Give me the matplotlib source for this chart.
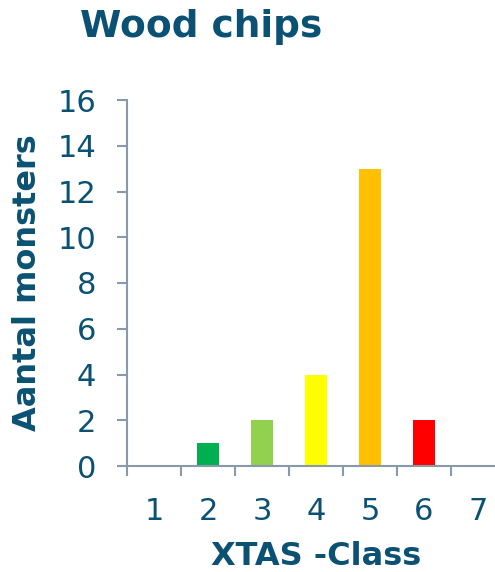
import matplotlib
matplotlib.use("Agg")
from matplotlib import pyplot as plt
from matplotlib import transforms

classes = [1, 2, 3, 4, 5, 6, 7]
counts = [0, 1, 2, 4, 13, 2, 0]
bar_colors = ['#00B050', '#00B050', '#92D050', '#FFFF00', '#FFC000', '#FF0000', '#FF0000']
y_ticks = [0, 2, 4, 6, 8, 10, 12, 14, 16]

text_color = '#0B5173'
axis_color = '#8A99A9'

plt.rcParams['font.family'] = ['DejaVu Sans']

fig = plt.figure(figsize=(4.95, 5.72), dpi=100)
ax = fig.add_axes([127 / 495, 106 / 572, 1 - 127 / 495, 366 / 572])

ax.bar(classes, counts, width=0.41, color=bar_colors)

ax.set_xlim(0.5, 0.5 + 368 / 54)
ax.set_ylim(0, 16)

# spines: only left and bottom
for s in ['top', 'right']:
    ax.spines[s].set_visible(False)
for s in ['left', 'bottom']:
    ax.spines[s].set_color(axis_color)
    ax.spines[s].set_linewidth(1.5)

ax.set_yticks(y_ticks)
ax.tick_params(axis='y', direction='out', length=7.2, width=1.5, color=axis_color,
               labelsize=22, labelcolor=text_color, pad=15)

# class labels at centres, tick marks between classes
ax.set_xticks(classes)
ax.set_xticks([c - 0.5 for c in classes], minor=True)
ax.tick_params(axis='x', which='major', length=0, labelsize=22,
               labelcolor=text_color, pad=22)
ax.tick_params(axis='x', which='minor', direction='out', length=7.2, width=1.5,
               color=axis_color)

ax.set_xlabel('XTAS -Class', fontsize=23, fontweight='bold', color=text_color)
ax.xaxis.set_label_coords(4, -0.205, transform=transforms.blended_transform_factory(ax.transData, ax.transAxes))
ax.set_ylabel('Aantal monsters', fontsize=23, fontweight='bold', color=text_color)
ax.yaxis.set_label_coords(-84 / 368, 0.5)

fig.text(80 / 495, 1 - 27 / 572, 'Wood chips', fontsize=27, fontweight='bold',
         color=text_color, ha='left', va='center')

fig.savefig('out.png', dpi=100)
